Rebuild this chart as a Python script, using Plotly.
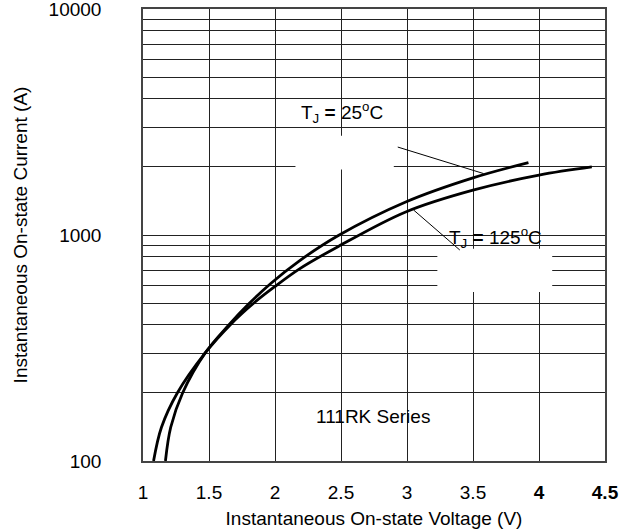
import plotly.graph_objects as go

# ---- data ----
v_25 = [1.17, 1.21, 1.30, 1.47, 1.65, 1.80, 1.97, 2.18, 2.48, 2.99, 3.50, 3.92]
i_25 = [100, 141, 200, 300, 400, 495, 612, 765, 995, 1400, 1790, 2090]

v_125 = [1.08, 1.14, 1.26, 1.47, 1.66, 1.84, 1.99, 2.18, 2.48, 2.99, 3.50, 4.00, 4.40]
i_125 = [100, 141, 200, 300, 400, 500, 586, 705, 890, 1265, 1580, 1840, 2000]

x_ticks = [1, 1.5, 2, 2.5, 3, 3.5, 4, 4.5]
x_ticktext = ["1", "1.5", "2", "2.5", "3", "3.5", "<b>4</b>", "<b>4.5</b>"]
y_grid = [100, 200, 300, 400, 500, 600, 700, 800, 900,
          1000, 2000, 3000, 4000, 5000, 6000, 7000, 8000, 9000, 10000]
y_labels = {100: "100", 1000: "1000", 10000: "10000"}

FONT = "Liberation Sans, Arial, sans-serif"

fig = go.Figure()
fig.add_trace(go.Scatter(x=v_25, y=i_25, mode="lines", name="TJ=25°C",
                         line=dict(color="black", width=2.8, shape="spline")))
fig.add_trace(go.Scatter(x=v_125, y=i_125, mode="lines", name="TJ=125°C",
                         line=dict(color="black", width=2.8, shape="spline")))

# white masks behind labels (cover grid)
fig.add_shape(type="rect", xref="x", yref="y", x0=2.155, x1=2.90, y0=1950, y1=2750,
              fillcolor="white", line=dict(width=0), layer="between")
fig.add_shape(type="rect", xref="x", yref="y", x0=3.23, x1=4.10, y0=560, y1=870,
              fillcolor="white", line=dict(width=0), layer="between")

# leader lines
fig.add_shape(type="line", xref="x", yref="y", x0=2.93, y0=2450, x1=3.58, y1=1870,
              line=dict(color="black", width=1))
fig.add_shape(type="line", xref="x", yref="y", x0=3.05, y0=1290, x1=3.40, y1=858,
              line=dict(color="black", width=1))

fig.add_annotation(x=2.51, y=3.54, xref="x", yref="y",
                   text="T<sub>J</sub> <b>=</b> 25<sup>o</sup>C", showarrow=False,
                   font=dict(family=FONT, size=19, color="black"))
fig.add_annotation(x=3.67, y=2.991, xref="x", yref="y",
                   text="T<sub>J</sub> <b>=</b> 125<sup>o</sup>C", showarrow=False,
                   font=dict(family=FONT, size=19, color="black"))
fig.add_annotation(x=2.74, y=2.199, xref="x", yref="y",
                   text="111RK Series", showarrow=False,
                   font=dict(family=FONT, size=19, color="black"))

fig.update_layout(
    width=620, height=529,
    margin=dict(l=143, r=15, t=9, b=68, autoexpand=False),
    paper_bgcolor="white", plot_bgcolor="white",
    showlegend=False,
    font=dict(family=FONT, color="black"),
)
fig.update_xaxes(
    range=[1, 4.5], tickmode="array", tickvals=x_ticks, ticktext=x_ticktext,
    showgrid=True, gridcolor="#222", gridwidth=1,
    showline=True, linecolor="#444", linewidth=1.5, mirror=True,
    ticks="", ticklabelstandoff=13, zeroline=False, automargin=False,
    ticklabeloverflow="allow",
    tickfont=dict(family=FONT, size=19, color="black"),
    title=dict(text="Instantaneous On-state Voltage (V)", standoff=12,
               font=dict(family=FONT, size=19, color="black")),
)
fig.update_yaxes(
    type="log", range=[2, 4], tickmode="array", tickvals=y_grid,
    ticktext=[y_labels.get(v, "") for v in y_grid],
    showgrid=True, gridcolor="#222", gridwidth=1,
    showline=True, linecolor="#444", linewidth=1.5, mirror=True,
    ticks="", ticklabelstandoff=36, zeroline=False, automargin=False,
    ticklabeloverflow="allow",
    tickfont=dict(family=FONT, size=19, color="black"),
    title=dict(text="Instantaneous On-state Current (A)", standoff=16,
               font=dict(family=FONT, size=19, color="black")),
)

fig.write_html("out.html")
